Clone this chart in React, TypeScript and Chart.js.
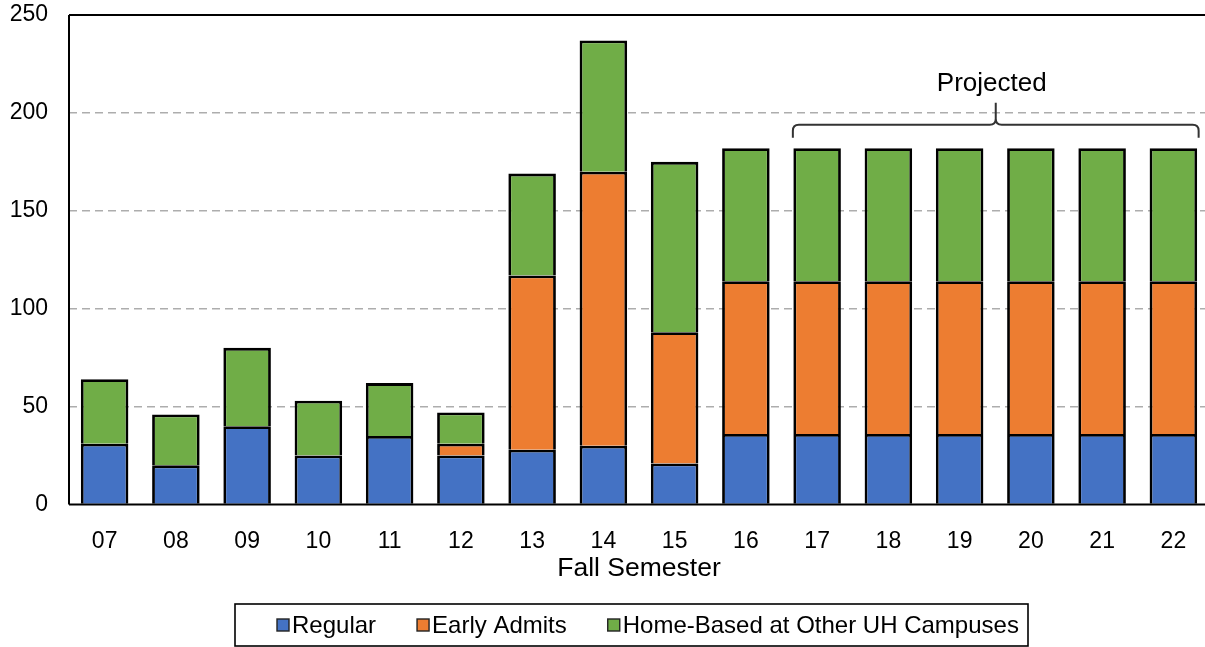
import React, { useEffect, useRef } from "react";
import { Chart, registerables } from "chart.js";

Chart.register(...registerables);

const categories = ["07", "08", "09", "10", "11", "12", "13", "14", "15", "16", "17", "18", "19", "20", "21", "22"];
const regular = [31, 20, 40, 25, 35, 25, 28, 30, 21, 36, 36, 36, 36, 36, 36, 36];
const earlyAdmits = [0, 0, 0, 0, 0, 6, 89, 140, 67, 78, 78, 78, 78, 78, 78, 78];
const homeBased = [33, 26, 40, 28, 27, 16, 52, 67, 87, 68, 68, 68, 68, 68, 68, 68];
const seriesLabels = ["Regular", "Early Admits", "Home-Based at Other UH Campuses"];
const seriesColors = ["#4472C4", "#ED7D31", "#70AD47"];
const yMax = 250;
const yStep = 50;
const xTitle = "Fall Semester";
const projectedLabel = "Projected";
const projectedFrom = 10;
const projectedTo = 15;
const bracketValue = 194;

const FONT = "'Liberation Sans', Arial, sans-serif";

const framePlugin = {
  id: "frame",
  afterDatasetsDraw(chart: any) {
    const { ctx, chartArea } = chart;
    ctx.save();
    ctx.strokeStyle = "#000";
    ctx.lineWidth = 2;
    ctx.beginPath();
    ctx.moveTo(chartArea.left, chartArea.top);
    ctx.lineTo(chartArea.right, chartArea.top);
    ctx.moveTo(chartArea.left, chartArea.top);
    ctx.lineTo(chartArea.left, chartArea.bottom);
    ctx.moveTo(chartArea.left, chartArea.bottom);
    ctx.lineTo(chartArea.right, chartArea.bottom);
    ctx.stroke();
    ctx.restore();
  },
};

const bracketPlugin = {
  id: "bracket",
  afterDraw(chart: any) {
    const { ctx } = chart;
    const yScale = chart.scales.y;
    const meta = chart.getDatasetMeta(2);
    const first = meta.data[projectedFrom] as any;
    const last = meta.data[projectedTo] as any;
    const xl = first.x - first.width / 2 - 0.5;
    const xr = last.x + last.width / 2 + 1.5;
    const xm = (xl + xr) / 2;
    const yh = yScale.getPixelForValue(bracketValue);
    const drop = 13;
    const r = 6;
    const spike = 22;
    ctx.save();
    ctx.strokeStyle = "#333";
    ctx.lineWidth = 2;
    ctx.beginPath();
    ctx.moveTo(xl, yh + drop);
    ctx.lineTo(xl, yh + r);
    ctx.quadraticCurveTo(xl, yh, xl + r, yh);
    ctx.lineTo(xm - r, yh);
    ctx.quadraticCurveTo(xm, yh, xm, yh - r);
    ctx.lineTo(xm, yh - spike);
    ctx.moveTo(xm, yh - r);
    ctx.quadraticCurveTo(xm, yh, xm + r, yh);
    ctx.lineTo(xr - r, yh);
    ctx.quadraticCurveTo(xr, yh, xr, yh + r);
    ctx.lineTo(xr, yh + drop);
    ctx.stroke();
    ctx.fillStyle = "#000";
    ctx.font = `26px ${FONT}`;
    ctx.textAlign = "center";
    ctx.textBaseline = "middle";
    ctx.fillText(projectedLabel, xm - 4, yh - 41);
    ctx.restore();
  },
};

const legendPlugin = {
  id: "boxLegend",
  afterDraw(chart: any) {
    const { ctx } = chart;
    const boxX = 235;
    const boxY = 604;
    const boxW = 793;
    const boxH = 42;
    ctx.save();
    ctx.strokeStyle = "#000";
    ctx.lineWidth = 1.6;
    ctx.strokeRect(boxX, boxY, boxW, boxH);
    ctx.font = `24px ${FONT}`;
    ctx.textBaseline = "middle";
    ctx.textAlign = "left";
    const cy = boxY + boxH / 2;
    let x = 277;
    chart.data.datasets.forEach((ds: any) => {
      ctx.fillStyle = ds.backgroundColor;
      ctx.fillRect(x, cy - 6, 12, 12);
      ctx.strokeStyle = "#222";
      ctx.lineWidth = 1.4;
      ctx.strokeRect(x, cy - 6, 12, 12);
      ctx.fillStyle = "#000";
      ctx.fillText(ds.label, x + 15, cy + 1);
      x += 15 + ctx.measureText(ds.label).width + 41;
    });
    ctx.restore();
  },
};

export default function App() {
  const ref = useRef<HTMLCanvasElement>(null);

  useEffect(() => {
    const values = [regular, earlyAdmits, homeBased];
    const chart = new Chart(ref.current!, {
      type: "bar",
      data: {
        labels: categories,
        datasets: values.map((v, i) => ({
          label: seriesLabels[i],
          data: v,
          backgroundColor: seriesColors[i],
          borderColor: "#000",
          borderWidth: 2.8,
          borderSkipped: "bottom",
          barPercentage: 0.667,
          categoryPercentage: 1,
        })),
      },
      options: {
        responsive: false,
        animation: false,
        layout: { padding: { top: 15, bottom: 60, left: 0, right: 0 } },
        plugins: {
          legend: { display: false },
          tooltip: { enabled: false },
        },
        scales: {
          x: {
            stacked: true,
            grid: { display: false },
            border: { display: false },
            ticks: {
              color: "#000",
              font: { family: FONT, size: 23 },
              padding: 15,
              maxRotation: 0,
              autoSkip: false,
            },
            title: {
              display: true,
              text: xTitle,
              color: "#000",
              font: { family: FONT, size: 26.5 },
              padding: { top: 0, bottom: 2 },
            },
            afterFit: (s: any) => {
              s.height = 82.5;
              s.paddingLeft = 0;
              s.paddingRight = 0;
            },
          },
          y: {
            stacked: true,
            min: 0,
            max: yMax,
            ticks: {
              stepSize: yStep,
              color: "#000",
              font: { family: FONT, size: 23 },
              padding: 21,
            },
            grid: {
              drawTicks: false,
              lineWidth: 1.4,
              color: (c: any) =>
                c.tick && (c.tick.value === 0 || c.tick.value === yMax) ? "rgba(0,0,0,0)" : "#ADADAD",
            },
            border: { display: false, dash: [8, 5] },
            afterFit: (s: any) => {
              s.width = 69;
              s.paddingTop = 0;
              s.paddingBottom = 0;
            },
          },
        },
      },
      plugins: [framePlugin, bracketPlugin, legendPlugin],
    } as any);
    return () => chart.destroy();
  }, []);

  return (
    <div
      style={{
        position: "absolute",
        left: 0,
        top: 0,
        width: 1205,
        height: 647,
        overflow: "hidden",
        background: "#fff",
      }}
    >
      <canvas ref={ref} width={1209} height={647} style={{ display: "block", width: 1209, height: 647 }} />
    </div>
  );
}
